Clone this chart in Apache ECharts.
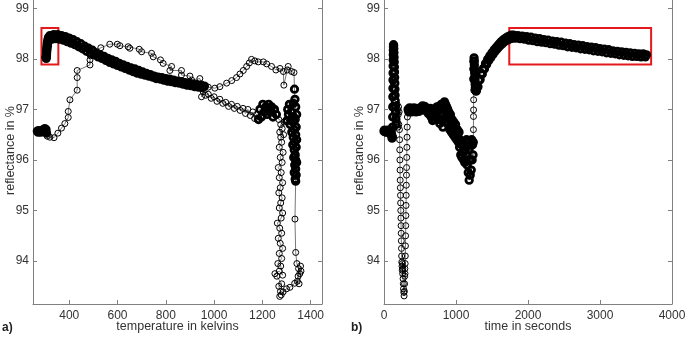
<!DOCTYPE html>
<html>
<head>
<meta charset="utf-8">
<script src="https://cdn.jsdelivr.net/npm/echarts@6/dist/echarts.min.js"></script>
<style>
html,body{margin:0;padding:0;background:#fff;}
#chart{width:685px;height:338px;}
</style>
</head>
<body>
<div id="chart"></div>
<script>
// ---------- tick labels ----------
const yTicks = [94, 95, 96, 97, 98, 99];
const leftXTicks = [400, 600, 800, 1000, 1200, 1400];
const rightXTicks = [0, 1000, 2000, 3000, 4000];

// ---------- left panel: reflectance (%) vs temperature (K), [T, R] ----------
const leftRoom = [[268,96.57],[271,96.55],[274,96.58],[277,96.56],[280,96.57],[283,96.55],
  [293,96.6],[296,96.57],[299,96.62],[302,96.56],[304,96.6],[306,96.53]];
const leftHeating = [[309,96.47],[320,96.45],[337,96.44],[353,96.53],[368,96.63],[382,96.72],
  [396,96.84],[396,96.96],[403,97.19],[433,97.38],[433,97.63],[433,97.77],[486,97.88],[486,97.98],
  [488,98.06],[531,98.22],[568,98.29],[599,98.29],[610,98.26],[644,98.24],[651,98.21],[690,98.19],
  [700,98.14],[741,98.11],[748,98.04],[778,97.98],[789,97.91],[824,97.85],[817,97.77],[865,97.77],
  [865,97.68],[900,97.66],[907,97.58],[941,97.61],[948,97.5],[976,97.44],[1003,97.42],[1024,97.45],
  [1052,97.52],[1073,97.57],[1093,97.63],[1107,97.7],[1121,97.77],[1135,97.85],[1146,97.92],
  [1155,97.99],[1169,97.96],[1183,97.94],[1204,97.94],[1218,97.9],[1238,97.85],[1256,97.78],
  [1273,97.81],[1287,97.75],[1289,97.48],[1303,97.78],[1307,97.85],[1321,97.75],[1331,97.73]];
const leftDrop = [[1333,97.4],[1335,97.2],[1305,97.0],[1312,97.1],[1320,96.95],[1328,97.12],
  [1338,97.05],[1342,96.9],[1330,96.85],[1318,96.8],[1308,96.9],[1302,96.78],[1315,96.7],
  [1326,96.75],[1336,96.8],[1340,96.65],[1332,96.6],[1322,96.55],[1328,96.45],[1338,96.5],
  [1342,96.4],[1334,96.35],[1326,96.3],[1332,96.2],[1340,96.25],[1336,96.1],[1330,96.05],
  [1338,96.0],[1342,95.95],[1334,95.9],[1338,95.82],[1332,95.75],[1340,95.7],[1336,95.62],
  [1338,95.58]];
const leftFall = [[1335,94.83],[1338,94.17],[1343,93.95],[1350,93.85],[1355,93.75],[1348,93.7],
  [1358,93.9],[1345,93.6],[1352,93.55],[1360,93.8],[1334,93.56]];
const leftBottom = [[1314,93.48],[1300,93.45],[1286,93.39],[1278,93.33],[1272,93.3]];
const leftColumn = [[1275,93.4],[1268,93.5],[1280,93.55],[1260,93.7],[1252,93.75],[1270,93.8],
  [1284,93.72],[1276,93.9],[1264,93.95],[1280,94.05],[1270,94.15],[1284,94.25],[1274,94.35],
  [1266,94.45],[1280,94.55],[1272,94.65],[1262,94.75],[1278,94.85],[1284,94.95],[1270,95.05],
  [1276,95.15],[1282,95.25],[1268,95.35],[1274,95.45],[1284,95.55],[1270,95.65],[1278,95.75],
  [1266,95.85],[1282,95.95],[1274,96.05],[1286,96.15],[1270,96.25],[1280,96.35],[1276,96.45],
  [1288,96.5],[1272,96.55],[1282,96.62],[1276,96.7],[1290,96.75],[1268,96.8]];
const leftCluster = [[1258,96.9],[1250,97.0],[1244,96.85],[1238,97.05],[1232,96.95],[1226,97.1],
  [1220,96.9],[1214,97.05],[1208,96.95],[1202,97.1],[1196,96.85],[1190,97.0],[1184,96.8]];
const leftLower = [[1176,96.9],[1168,96.82],[1160,96.95],[1150,96.88],[1140,97.0],[1130,96.92],
  [1120,97.02],[1108,96.98],[1096,97.06],[1084,97.02],[1072,97.1],[1060,97.06],[1048,97.14],
  [1036,97.12],[1024,97.2],[1012,97.16],[1000,97.25],[988,97.22],[976,97.3],[964,97.28],
  [955,97.35],[948,97.25]];
const leftBand = [[960,97.46],[952,97.43],[944,97.48],[936,97.44],[928,97.49],[920,97.45],
  [912,97.5],[904,97.47],[896,97.52],[888,97.48],[880,97.53],[872,97.5],[864,97.55],[856,97.52],
  [848,97.56],[840,97.53],[832,97.58],[824,97.55],[816,97.6],[808,97.56],[800,97.61],[792,97.58],
  [784,97.63],[776,97.6],[768,97.64],[760,97.61],[752,97.66],[744,97.64],[736,97.69],[728,97.66],
  [720,97.71],[712,97.68],[704,97.74],[696,97.7],[688,97.77],[680,97.72],[672,97.8],[664,97.75],
  [656,97.82],[648,97.78],[640,97.85],[632,97.81],[624,97.88],[616,97.84],[608,97.91],[600,97.87],
  [592,97.95],[584,97.9],[576,97.98],[568,97.93],[560,98.01],[552,97.97],[544,98.05],[536,98.01],
  [528,98.08],[520,98.04],[512,98.12],[504,98.08],[496,98.17],[488,98.11],[480,98.21],[472,98.15],
  [464,98.25],[456,98.2],[448,98.3],[440,98.24],[432,98.34],[424,98.28],[416,98.38],[408,98.31],
  [400,98.41],[392,98.34],[384,98.44],[376,98.37],[368,98.46],[360,98.39],[352,98.48],[344,98.4],
  [336,98.48],[328,98.39],[320,98.46]];
const leftCurl = [[316,98.38],[314,98.42],[312,98.33],[311,98.37],[310,98.27],[309,98.31],
  [308,98.21],[308,98.25],[307,98.15],[307,98.19],[306,98.1],[306,98.13],[305,98.05],[306,98.08],
  [305,98.01],[304,98.03]];
const leftBox = [285, 355, 97.89, 98.61];

// ---------- right panel: reflectance (%) vs time (s), [t, R] ----------
const rightFlat = [[0,96.57],[7,96.59],[14,96.56],[21,96.58],[28,96.55],[35,96.58],[42,96.57],
  [49,96.55],[56,96.59],[63,96.56],[70,96.58],[77,96.55],[84,96.57],[91,96.58],[98,96.55],
  [104,96.52],[108,96.47],[112,96.43],[116,96.46]];
const rightSpike = [[119,96.65],[121,96.85],[122,97.05],[123,97.25],[124,97.42],[125,97.58],
  [126,97.72],[127,97.86],[128,97.98],[129,98.08],[130,98.17],[131,98.24],[132,98.28],[134,98.26],
  [136,98.2],[138,98.12],[140,98.03],[142,97.94],[144,97.84],[146,97.74],[148,97.63],[150,97.52],
  [152,97.4],[154,97.28],[156,97.17],[158,97.06],[161,96.95],[164,96.82],[167,96.7]];
const rightEarly = [[170,96.9],[174,97.08],[178,96.8],[182,97.1],[186,96.75],[190,97.0],
  [194,96.65],[198,96.9],[202,97.05],[206,96.7],[210,96.95],[214,96.6]];
const rightDip = [[217,96.4],[219,96.2],[221,96.0],[223,95.8],[225,95.6],[227,95.45],[229,95.3],
  [231,95.15],[233,95.0],[235,94.85],[237,94.7],[239,94.55],[241,94.4],[243,94.25],[245,94.1],
  [247,93.98],[250,93.9],[253,93.82],[256,93.95],[259,93.75],[262,93.85],[265,93.65],[268,93.55],
  [271,93.45],[275,93.38],[279,93.31],[283,93.4],[286,93.55],[288,93.7],[290,93.85],[292,93.75],
  [294,93.95],[296,94.1],[298,94.3],[300,94.5],[302,94.7],[304,94.9],[306,95.1],[308,95.3],
  [310,95.5],[312,95.7],[314,95.85],[316,96.05],[318,96.25],[320,96.45],[322,96.65],[325,96.85],
  [329,96.98]];
const rightMid = [[335,97.0],[345,96.95],[355,97.03],[365,96.97],[375,97.02],[385,96.95],
  [395,97.0],[405,96.96],[415,97.03],[425,96.98],[435,97.0],[445,96.95],[455,97.02],[465,96.97],
  [475,97.01],[485,96.96],[495,97.0],[505,96.98],[515,97.04],[525,97.02],[535,97.07],[545,97.05],
  [555,97.02],[565,97.06],[575,96.98],[585,97.03],[595,96.97],[605,97.02],[615,96.92],[625,97.0],
  [635,96.9],[645,97.02],[655,96.85],[665,96.95],[675,96.78],[685,96.88],[695,96.8],[705,96.92],
  [715,96.85],[725,97.0],[735,97.05],[745,96.95],[755,97.05],[765,96.8],[775,96.72],[785,96.9],
  [795,97.1],[805,97.05],[812,96.8],[818,96.65],[825,96.9],[832,97.12],[840,97.15],[848,97.0],
  [855,97.1],[862,96.85],[870,97.05],[878,96.75],[885,97.0],[892,96.7],[900,96.95],[908,96.85],
  [915,96.6],[922,96.9],[930,96.75],[938,96.55],[946,96.8],[954,96.7],[962,96.5],[970,96.75],
  [978,96.6],[986,96.45],[994,96.7],[1002,96.55],[1010,96.4],[1018,96.6],[1026,96.45],[1034,96.35],
  [1042,96.55],[1050,96.25],[1058,96.4],[1066,96.1],[1074,96.3],[1082,96.05],[1090,96.35],
  [1098,96.15],[1106,96.0],[1114,96.3],[1122,95.95],[1130,96.2],[1138,96.0],[1146,96.4],
  [1154,95.9],[1162,96.35],[1170,95.75],[1178,96.2],[1183,95.6],[1190,96.0],[1198,95.7],
  [1206,96.3],[1212,95.8],[1218,96.4],[1224,96.0],[1230,96.3],[1236,96.1],[1240,96.35]];
const rightJumpLine = [[1242,96.6],[1243,96.86],[1244,96.99],[1245,97.19],[1246,97.38]];
const rightJump = [[1247,97.6],[1248,97.8],[1249,97.95],[1251,98.02],[1253,97.96],[1255,97.88],
  [1257,97.8],[1259,97.72],[1261,97.64],[1263,97.57],[1266,97.5],[1269,97.44],[1272,97.4],
  [1276,97.37],[1280,97.36],[1284,97.38]];
const rightRise = [[1290,97.43],[1305,97.45],[1320,97.58],[1335,97.59],[1350,97.71],[1365,97.7],
  [1380,97.81],[1395,97.8],[1410,97.91],[1425,97.89],[1440,97.99],[1455,97.97],[1470,98.06],
  [1485,98.03],[1500,98.12],[1515,98.09],[1530,98.18],[1545,98.15],[1560,98.23],[1575,98.2],
  [1590,98.28],[1605,98.25],[1620,98.33],[1635,98.29],[1650,98.37],[1665,98.33],[1680,98.4],
  [1695,98.36],[1710,98.43],[1725,98.38],[1740,98.45],[1755,98.4],[1770,98.47],[1785,98.41]];
const rightPlateau = [[1800,98.47],[1830,98.41],[1860,98.46],[1890,98.4],[1920,98.45],[1950,98.39],
  [1980,98.44],[2010,98.37],[2040,98.43],[2070,98.36],[2100,98.41],[2130,98.34],[2160,98.4],
  [2190,98.33],[2220,98.38],[2250,98.32],[2280,98.37],[2310,98.3],[2340,98.35],[2370,98.29],
  [2400,98.34],[2430,98.27],[2460,98.33],[2490,98.26],[2520,98.31],[2550,98.24],[2580,98.3],
  [2610,98.23],[2640,98.28],[2670,98.22],[2700,98.27],[2730,98.2],[2760,98.26],[2790,98.19],
  [2820,98.24],[2850,98.18],[2880,98.23],[2910,98.16],[2940,98.22],[2970,98.15],[3000,98.2],
  [3030,98.14],[3060,98.19],[3090,98.12],[3120,98.18],[3150,98.11],[3180,98.16],[3210,98.1],
  [3240,98.15],[3270,98.08],[3300,98.14],[3330,98.07],[3360,98.13],[3390,98.06],[3420,98.12],
  [3450,98.05],[3480,98.11],[3510,98.05],[3540,98.1],[3570,98.04],[3600,98.1],[3630,98.04],
  [3645,98.08]];
const rightBox = [1740, 3710, 97.89, 98.61];

// ---------- build ----------
const leftData = [].concat(leftRoom, leftHeating, leftDrop, leftFall, leftBottom, leftColumn, leftCluster, leftLower, leftBand, leftCurl);
const leftDense = [].concat(leftRoom, leftDrop, leftCluster, leftBand, leftCurl);
const rightData = [].concat(rightFlat, rightSpike, rightEarly, rightDip, rightMid, rightJumpLine, rightJump, rightRise, rightPlateau);
const rightDense = [].concat(rightFlat, rightSpike, rightMid, rightJump, rightRise, rightPlateau);

const FONT = "'Liberation Sans', Arial, sans-serif";
const AX = '#808080';
const TXT = '#333333';
const plain = v => String(v);

function xAxis(gi, min, max, ticks, name) {
  return {
    gridIndex: gi, type: 'value', min: min, max: max,
    axisLine: { show: true, onZero: false, lineStyle: { color: AX, width: 1 } },
    axisTick: { show: true, inside: true, length: 4, customValues: ticks, lineStyle: { color: AX } },
    axisLabel: { customValues: ticks, formatter: plain, color: TXT, fontSize: 12, fontFamily: FONT, margin: 6 },
    splitLine: { show: false },
    name: name, nameLocation: 'middle', nameGap: 16, nameMoveOverlap: false,
    nameTextStyle: { color: TXT, fontSize: 12.5, fontFamily: FONT, verticalAlign: 'top' }
  };
}
function yAxis(gi, gap) {
  return {
    gridIndex: gi, type: 'value', min: 93.15, max: 99.224, position: 'left',
    axisLine: { show: true, onZero: false, lineStyle: { color: AX, width: 1 } },
    axisTick: { show: true, inside: true, length: 4, customValues: yTicks, lineStyle: { color: AX } },
    axisLabel: { customValues: yTicks, formatter: plain, color: TXT, fontSize: 12, fontFamily: FONT, margin: 4 },
    splitLine: { show: false },
    name: 'reflectance in %', nameLocation: 'middle', nameGap: gap, nameMoveOverlap: false,
    nameTextStyle: { color: TXT, fontSize: 12.5, fontFamily: FONT }
  };
}
function yAxisRight(gi) {
  return {
    gridIndex: gi, type: 'value', min: 93.15, max: 99.224, position: 'right',
    axisLine: { show: true, onZero: false, lineStyle: { color: AX, width: 1 } },
    axisTick: { show: true, inside: true, length: 4, customValues: yTicks, lineStyle: { color: AX } },
    axisLabel: { show: false },
    splitLine: { show: false }
  };
}
function traceSeries(xi, yi, data, box) {
  return {
    type: 'line', xAxisIndex: xi, yAxisIndex: yi, data: data,
    symbol: 'circle', symbolSize: 6, showSymbol: true, showAllSymbol: true,
    itemStyle: { color: 'rgba(0,0,0,0)', borderColor: '#000', borderWidth: 1 },
    lineStyle: { color: '#555', width: 0.8 },
    silent: true, animation: false, z: 2,
    markArea: {
      silent: true,
      itemStyle: { color: 'rgba(0,0,0,0)', borderColor: '#e3191c', borderWidth: 2 },
      data: [[{ coord: [box[0], box[3]] }, { coord: [box[1], box[2]] }]]
    }
  };
}
function denseSeries(xi, yi, data) {
  return {
    type: 'scatter', xAxisIndex: xi, yAxisIndex: yi, data: data,
    symbol: 'circle', symbolSize: 6.5,
    itemStyle: { color: 'rgba(0,0,0,0)', borderColor: '#000', borderWidth: 2.8, opacity: 1 },
    silent: true, animation: false, z: 3
  };
}

const chart = echarts.init(document.getElementById('chart'), null, { renderer: 'canvas' });
chart.setOption({
  animation: false,
  backgroundColor: '#fff',
  grid: [
    { left: 33, right: 363, top: -3, bottom: 34, containLabel: false, outerBoundsMode: 'none' },
    { left: 384, right: 13, top: -3, bottom: 34, containLabel: false, outerBoundsMode: 'none' }
  ],
  xAxis: [
    xAxis(0, 250, 1447, leftXTicks, 'temperature in kelvins'),
    xAxis(1, 0, 4000, rightXTicks, 'time in seconds')
  ],
  yAxis: [yAxis(0, 16), yAxisRight(0), yAxis(1, 18), yAxisRight(1)],
  series: [
    traceSeries(0, 0, leftData, leftBox),
    denseSeries(0, 0, leftDense),
    traceSeries(1, 2, rightData, rightBox),
    denseSeries(1, 2, rightDense)
  ],
  graphic: [
    { type: 'text', left: 2, top: 322, style: { text: 'a)', font: "bold 12px 'Liberation Sans', Arial, sans-serif", fill: '#222' } },
    { type: 'text', left: 351, top: 322, style: { text: 'b)', font: "bold 12px 'Liberation Sans', Arial, sans-serif", fill: '#222' } }
  ]
});
</script>
</body>
</html>
